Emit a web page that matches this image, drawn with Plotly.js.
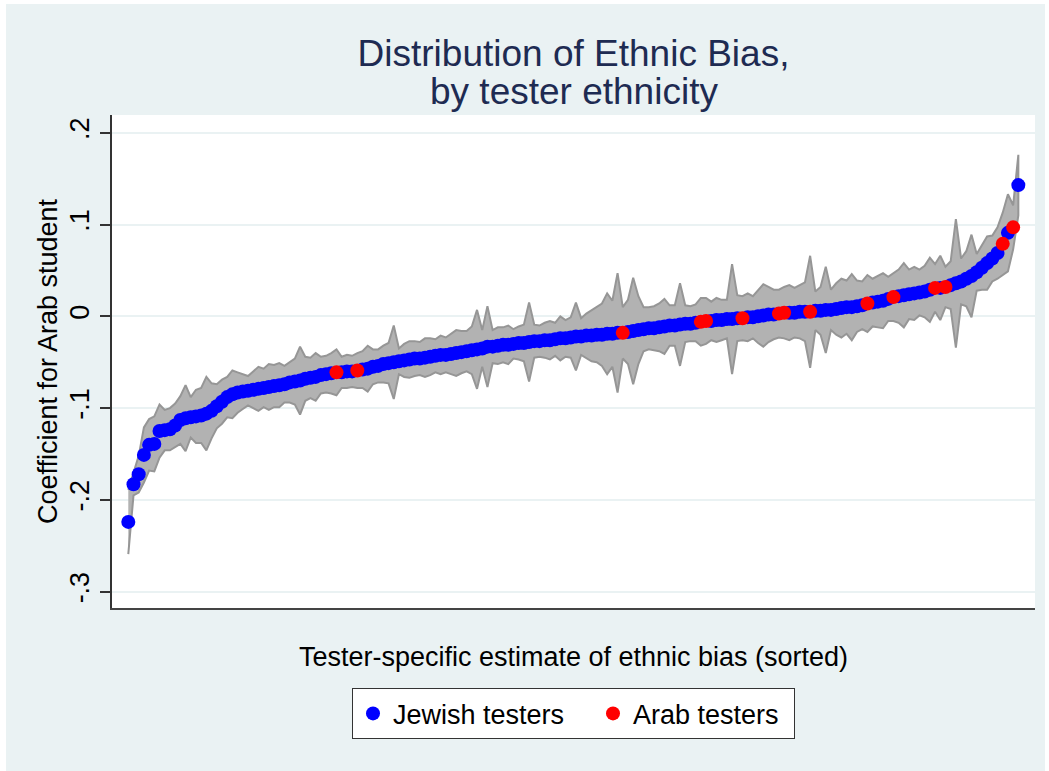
<!DOCTYPE html>
<html>
<head>
<meta charset="utf-8">
<script src="https://cdn.plot.ly/plotly-3.0.1.min.js"></script>
<style>
  html, body { margin: 0; padding: 0; background: #ffffff; }
  #chart { position: absolute; left: 6px; top: 4px; width: 1039px; height: 767px; }
</style>
</head>
<body>
<div id="chart"></div>
<script>
// Tester-specific coefficients for an Arab student, sorted from lowest to highest.
const estimate = [
  -0.224, -0.183, -0.172, -0.151, -0.140, -0.139, -0.125, -0.124, -0.123, -0.119,
  -0.113, -0.111, -0.110, -0.109, -0.108, -0.106, -0.103, -0.098, -0.093, -0.088,
  -0.085, -0.083, -0.082, -0.081, -0.080, -0.079, -0.078, -0.077, -0.076, -0.075,
  -0.074, -0.072, -0.071, -0.070, -0.068, -0.067, -0.066, -0.064, -0.063, -0.062,
  -0.061, -0.061, -0.060, -0.060, -0.059, -0.058, -0.057, -0.055, -0.054, -0.052,
  -0.051, -0.050, -0.049, -0.048, -0.047, -0.046, -0.046, -0.045, -0.044, -0.043,
  -0.042, -0.042, -0.041, -0.040, -0.039, -0.038, -0.037, -0.036, -0.035, -0.033,
  -0.033, -0.032, -0.031, -0.031, -0.030, -0.029, -0.029, -0.028, -0.027, -0.027,
  -0.026, -0.026, -0.025, -0.024, -0.024, -0.023, -0.022, -0.022, -0.021, -0.021,
  -0.020, -0.020, -0.019, -0.019, -0.018, -0.018, -0.017, -0.016, -0.015, -0.014,
  -0.013, -0.013, -0.012, -0.011, -0.010, -0.010, -0.009, -0.008, -0.008, -0.007,
  -0.006, -0.005, -0.005, -0.004, -0.004, -0.003, -0.003, -0.002, -0.002, -0.001,
  -0.001, 0.000, 0.001, 0.002, 0.002, 0.003, 0.004, 0.004, 0.004, 0.005,
  0.005, 0.005, 0.006, 0.006, 0.007, 0.007, 0.008, 0.009, 0.010, 0.010,
  0.011, 0.012, 0.014, 0.015, 0.016, 0.017, 0.019, 0.021, 0.022, 0.023,
  0.024, 0.025, 0.026, 0.027, 0.029, 0.031, 0.031, 0.032, 0.034, 0.036,
  0.038, 0.041, 0.044, 0.048, 0.053, 0.058, 0.063, 0.069, 0.079, 0.091,
  0.097, 0.143
];

// Half-width of each tester's 95% confidence interval.
const ciHalfWidth = [
  0.035, 0.012, 0.020, 0.030, 0.028, 0.030, 0.029, 0.022, 0.023, 0.024,
  0.026, 0.036, 0.022, 0.029, 0.030, 0.040, 0.030, 0.024, 0.024, 0.022,
  0.026, 0.022, 0.019, 0.016, 0.020, 0.024, 0.021, 0.025, 0.023, 0.024,
  0.020, 0.022, 0.025, 0.037, 0.024, 0.022, 0.026, 0.020, 0.020, 0.022,
  0.025, 0.017, 0.018, 0.017, 0.019, 0.020, 0.025, 0.019, 0.018, 0.020,
  0.022, 0.040, 0.014, 0.018, 0.020, 0.019, 0.018, 0.021, 0.020, 0.018,
  0.021, 0.019, 0.022, 0.025, 0.023, 0.022, 0.026, 0.043, 0.020, 0.044,
  0.018, 0.020, 0.019, 0.021, 0.016, 0.018, 0.020, 0.043, 0.018, 0.017,
  0.019, 0.021, 0.018, 0.024, 0.020, 0.022, 0.037, 0.020, 0.024, 0.028,
  0.030, 0.034, 0.044, 0.036, 0.065, 0.028, 0.035, 0.058, 0.037, 0.024,
  0.023, 0.024, 0.026, 0.030, 0.022, 0.022, 0.045, 0.020, 0.019, 0.020,
  0.026, 0.025, 0.021, 0.024, 0.022, 0.021, 0.060, 0.025, 0.024, 0.026,
  0.023, 0.029, 0.034, 0.030, 0.027, 0.026, 0.028, 0.030, 0.027, 0.029,
  0.032, 0.061, 0.021, 0.026, 0.047, 0.022, 0.028, 0.032, 0.029, 0.036,
  0.028, 0.026, 0.031, 0.026, 0.028, 0.030, 0.024, 0.026, 0.029, 0.035,
  0.027, 0.029, 0.025, 0.028, 0.035, 0.026, 0.035, 0.022, 0.026, 0.070,
  0.025, 0.030, 0.045, 0.020, 0.024, 0.029, 0.025, 0.028, 0.034, 0.042,
  0.024, 0.033
];

// Sorted positions (1-based) of the Arab testers; every other tester is Jewish.
const arabRanks = [41, 45, 96, 111, 112, 119, 126, 127, 132, 143, 148, 156, 158, 169, 171];

const yTickValues = [-0.3, -0.2, -0.1, 0, 0.1, 0.2];
const yTickLabels = ['-.3', '-.2', '-.1', '0', '.1', '.2'];

const rank = estimate.map((_, i) => i + 1);
const upper = estimate.map((v, i) => v + ciHalfWidth[i]);
const lower = estimate.map((v, i) => v - ciHalfWidth[i]);

const arabSet = new Set(arabRanks);
const jewX = [], jewY = [], arabX = [], arabY = [];
rank.forEach((r, i) => {
  if (arabSet.has(r)) { arabX.push(r); arabY.push(estimate[i]); }
  else { jewX.push(r); jewY.push(estimate[i]); }
});

const band = {
  type: 'scatter',
  mode: 'lines',
  x: rank.concat(rank.slice().reverse()),
  y: upper.concat(lower.slice().reverse()),
  fill: 'toself',
  fillcolor: 'rgb(178,178,178)',
  line: { color: 'rgb(150,150,150)', width: 2 },
  showlegend: false,
  hoverinfo: 'skip'
};

const jewish = {
  type: 'scatter',
  mode: 'markers',
  name: 'Jewish testers',
  x: jewX,
  y: jewY,
  legendwidth: 195,
  marker: { color: '#0000ff', size: 14, line: { width: 0 } }
};

const arab = {
  type: 'scatter',
  mode: 'markers',
  name: 'Arab testers',
  x: arabX,
  y: arabY,
  legendwidth: 156,
  marker: { color: '#ff0000', size: 14, line: { width: 0 } }
};

const font = 'Liberation Sans, Arial, sans-serif';
const titleColor = '#1e2b52';

const layout = {
  width: 1039,
  height: 767,
  paper_bgcolor: 'rgb(234,242,243)',
  plot_bgcolor: '#ffffff',
  margin: { l: 106, r: 10, t: 111, b: 163, pad: 0 },
  font: { family: font, color: '#000000', size: 27 },
  title: {
    text: 'Distribution of Ethnic Bias,',
    font: { family: font, size: 37, color: titleColor },
    x: 0.5,
    xref: 'paper',
    xanchor: 'center',
    y: 0.936,
    yref: 'container',
    yanchor: 'middle'
  },
  // second line of the two-line heading, set tighter than a <br> would allow
  annotations: [{
    text: 'by tester ethnicity',
    font: { family: font, size: 37, color: titleColor },
    x: 0.5,
    xref: 'paper',
    xanchor: 'center',
    y: 1.0467,
    yref: 'paper',
    yanchor: 'middle',
    showarrow: false
  }],
  xaxis: {
    range: [-2.13, 175.2],
    showticklabels: false,
    ticks: '',
    showgrid: false,
    zeroline: false,
    showline: true,
    linecolor: '#444444',
    linewidth: 2,
    title: {
      text: 'Tester-specific estimate of ethnic bias (sorted)',
      font: { family: font, size: 27, color: '#000000' },
      standoff: 38
    }
  },
  yaxis: {
    range: [-0.3178, 0.2194],
    tickvals: yTickValues,
    ticktext: yTickLabels,
    tickangle: -90,
    ticks: 'outside',
    ticklen: 10,
    tickwidth: 2,
    tickcolor: '#333333',
    tickfont: { family: font, size: 27, color: '#000000' },
    showgrid: true,
    gridcolor: 'rgb(234,242,243)',
    gridwidth: 2,
    zeroline: false,
    showline: true,
    linecolor: '#333333',
    linewidth: 2,
    title: {
      text: 'Coefficient for Arab student',
      font: { family: font, size: 27, color: '#000000' },
      standoff: 0
    }
  },
  legend: {
    orientation: 'h',
    x: 0.5,
    xanchor: 'center',
    y: -0.163,
    yanchor: 'top',
    bgcolor: '#ffffff',
    bordercolor: '#333333',
    borderwidth: 1,
    font: { family: font, size: 27, color: '#000000' }
  },
  showlegend: true
};

Plotly.newPlot('chart', [band, jewish, arab], layout, { staticPlot: true, displayModeBar: false });
</script>
</body>
</html>
